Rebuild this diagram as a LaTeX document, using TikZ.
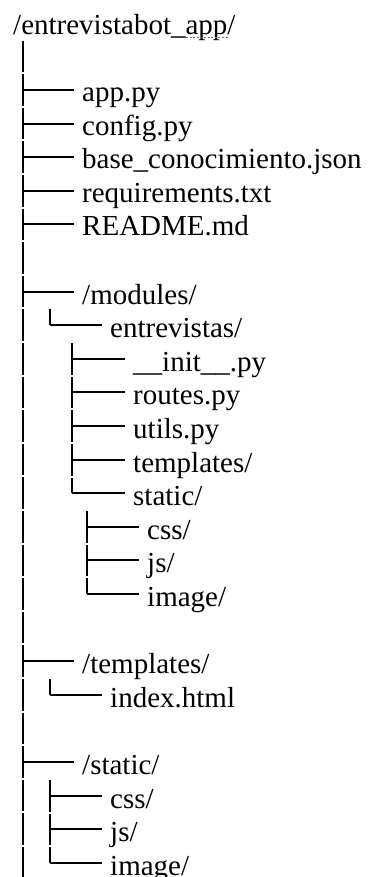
\documentclass[tikz,border=0pt]{standalone}
\usepackage{fontspec}
\setmainfont{Liberation Serif}

\definecolor{spellblue}{RGB}{95,95,225}

\tikzset{
    % One line of the listing, text starts 8pt right of the west anchor.
    entry/.style = {
        anchor = west,
        inner xsep = 8pt,
        inner ysep = 0pt,
        text height = 28pt,
        text depth = 4pt,
        font = \fontsize{29}{33}\selectfont
    },
    branch/.style = {line width = 2pt},
    stem/.style = {line width = 2pt, dash pattern = on 31.6pt off 2pt},
    spell/.style = {spellblue, line width = 1pt, dash pattern = on 2pt off 1.6pt},
    declare function = {
        rowy(\r) = -round(22.8 + 33.6*\r);
        railtop(\r) = rowy(\r) + 15.8;
    }
}

\begin{document}
\begin{tikzpicture}[x = 1pt, y = 1pt]

        \useasboundingbox (0, 0) rectangle (367, -877);

        % Nodes for every file and folder.
        \node[entry] (root) at (5, {rowy(0)}) {/entrevistabot\_app/};
        \node[entry] (app) at (74, {rowy(2)}) {app.py};
        \node[entry] (config) at (74, {rowy(3)}) {config.py};
        \node[entry] (base) at (74, {rowy(4)}) {base\_conocimiento.json};
        \node[entry] (reqs) at (74, {rowy(5)}) {requirements.txt};
        \node[entry] (readme) at (74, {rowy(6)}) {README.md};
        \node[entry] (modules) at (74, {rowy(8)}) {/modules/};
        \node[entry] (entrevistas) at (102, {rowy(9)}) {entrevistas/};
        \node[entry] (init) at (125, {rowy(10)}) {\_\_init\_\_.py};
        \node[entry] (routes) at (125, {rowy(11)}) {routes.py};
        \node[entry] (utils) at (125, {rowy(12)}) {utils.py};
        \node[entry] (modtpl) at (125, {rowy(13)}) {templates/};
        \node[entry] (modstatic) at (125, {rowy(14)}) {static/};
        \node[entry] (modcss) at (139, {rowy(15)}) {css/};
        \node[entry] (modjs) at (139, {rowy(16)}) {js/};
        \node[entry] (modimage) at (139, {rowy(17)}) {image/};
        \node[entry] (templates) at (74, {rowy(19)}) {/templates/};
        \node[entry] (index) at (102, {rowy(20)}) {index.html};
        \node[entry] (static) at (74, {rowy(22)}) {/static/};
        \node[entry] (css) at (102, {rowy(23)}) {css/};
        \node[entry] (js) at (102, {rowy(24)}) {js/};
        \node[entry] (image) at (102, {rowy(25)}) {image/};

        % Tops of the vertical rails.
        \coordinate (trunk) at (23, -40.6);
        \coordinate (trunkend) at (23, -877);
        \coordinate (modrail) at (50, {railtop(9)});
        \coordinate (entrail) at (72, {railtop(10)});
        \coordinate (statrail) at (87, {railtop(15)});
        \coordinate (tplrail) at (50, {railtop(20)});
        \coordinate (strail) at (50, {railtop(23)});

        % Spell-check marks under "app".
        \coordinate (typo) at (186, -37.5);
        \coordinate (typoend) at (228, -37.5);
        \draw[spell] (typo) to (typoend);

        % Vertical rails.
        \draw[stem] (trunk) to (trunkend);
        \draw[stem] (modrail) to (modrail |- entrevistas.west);
        \draw[stem] (entrail) to (entrail |- modstatic.west);
        \draw[stem] (statrail) to (statrail |- modimage.west);
        \draw[stem] (tplrail) to (tplrail |- index.west);
        \draw[stem] (strail) to (strail |- image.west);

        % Branches off the trunk.
        \draw[branch] (trunk |- app.west) to (app.west);
        \draw[branch] (trunk |- config.west) to (config.west);
        \draw[branch] (trunk |- base.west) to (base.west);
        \draw[branch] (trunk |- reqs.west) to (reqs.west);
        \draw[branch] (trunk |- readme.west) to (readme.west);
        \draw[branch] (trunk |- modules.west) to (modules.west);
        \draw[branch] (trunk |- templates.west) to (templates.west);
        \draw[branch] (trunk |- static.west) to (static.west);

        % Branches inside /modules/.
        \draw[branch] (modrail |- entrevistas.west) to (entrevistas.west);
        \draw[branch] (entrail |- init.west) to (init.west);
        \draw[branch] (entrail |- routes.west) to (routes.west);
        \draw[branch] (entrail |- utils.west) to (utils.west);
        \draw[branch] (entrail |- modtpl.west) to (modtpl.west);
        \draw[branch] (entrail |- modstatic.west) to (modstatic.west);
        \draw[branch] (statrail |- modcss.west) to (modcss.west);
        \draw[branch] (statrail |- modjs.west) to (modjs.west);
        \draw[branch] (statrail |- modimage.west) to (modimage.west);

        % Branches inside /templates/ and /static/.
        \draw[branch] (tplrail |- index.west) to (index.west);
        \draw[branch] (strail |- css.west) to (css.west);
        \draw[branch] (strail |- js.west) to (js.west);
        \draw[branch] (strail |- image.west) to (image.west);
    \end{tikzpicture}
\end{document}
